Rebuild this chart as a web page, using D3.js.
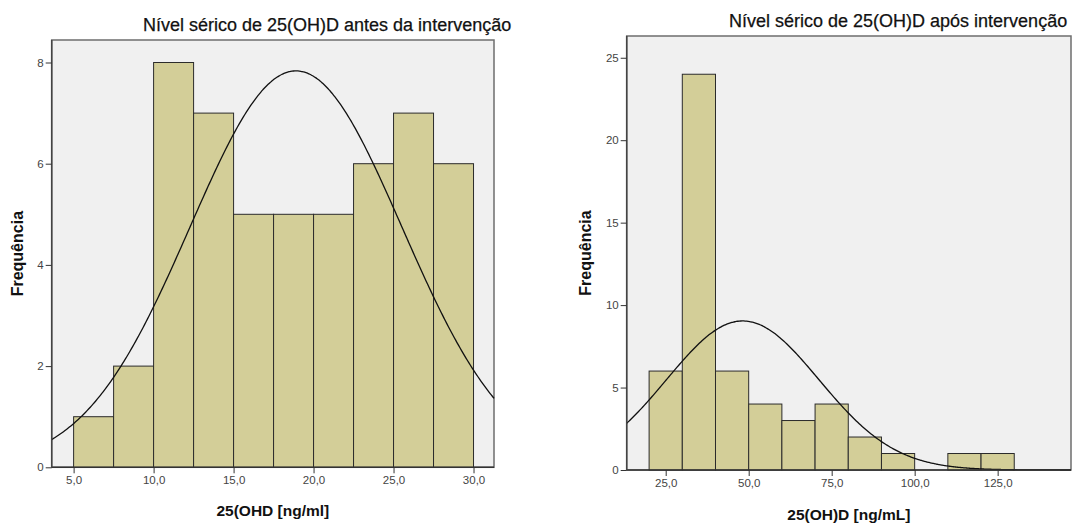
<!DOCTYPE html>
<html><head><meta charset="utf-8">
<script src="https://cdn.jsdelivr.net/npm/d3@7"></script>
<style>body{margin:0;background:#fff}svg{display:block}</style>
</head><body>
<svg id="c" width="1075" height="523"></svg>
<script>
// Chart 1: before intervention
const bins1 = [5, 7.5, 10, 12.5, 15, 17.5, 20, 22.5, 25, 27.5, 30];
const counts1 = [1, 2, 8, 7, 5, 5, 5, 6, 7, 6];
const xTicks1 = [5, 10, 15, 20, 25, 30];
const yTicks1 = [0, 2, 4, 6, 8];
const normal1 = {mean: 18.9, sd: 6.62, n: 52, width: 2.5};

// Chart 2: after intervention
const bins2 = [20, 30, 40, 50, 60, 70, 80, 90, 100, 110, 120, 130];
const counts2 = [6, 24, 6, 4, 3, 4, 2, 1, 0, 1, 1];
const xTicks2 = [25, 50, 75, 100, 125];
const yTicks2 = [0, 5, 10, 15, 20, 25];
const normal2 = {mean: 48.2, sd: 22.95, n: 52, width: 10};

const titles = ["Nível sérico de 25(OH)D antes da intervenção", "Nível sérico de 25(OH)D após intervenção"];
const xLabels = ["25(OHD [ng/ml]", "25(OH)D [ng/mL]"];
const yLabel = "Frequência";

const svg = d3.select("#c");
const fmt = v => d3.format(".1f")(v).replace(".", ",");
const FONT = "'Liberation Sans', Arial, sans-serif";

function draw(cfg) {
  const {box, xDom, yDom, bins, counts, xTicks, yTicks, normal, title, titleX, titleY, xLabel, xLabelY, yLabelX} = cfg;
  const x = d3.scaleLinear().domain(xDom).range([box.l, box.r]);
  const y = d3.scaleLinear().domain(yDom).range([box.b, box.b - (yDom[1]-yDom[0]) * box.ppu]);
  const g = svg.append("g");
  g.append("rect").attr("x", box.l).attr("y", box.t).attr("width", box.r - box.l).attr("height", box.b - box.t)
    .attr("fill", "#f0f0f0").attr("stroke", "#6e6e6e").attr("stroke-width", 1.5);
  const data = counts.map((c, i) => ({x0: bins[i], x1: bins[i+1], c}));
  g.selectAll("rect.bar").data(data.filter(d => d.c > 0)).join("rect").attr("class", "bar")
    .attr("x", d => x(d.x0)).attr("width", d => x(d.x1) - x(d.x0))
    .attr("y", d => y(d.c)).attr("height", d => y(0) - y(d.c))
    .attr("fill", "#d3ce98").attr("stroke", "#2b2b2b").attr("stroke-width", 1);
  // fitted normal curve
  const pts = d3.range(0, 301).map(i => xDom[0] + (xDom[1]-xDom[0]) * i / 300);
  const f = v => normal.n * normal.width / (normal.sd * Math.sqrt(2*Math.PI)) * Math.exp(-((v-normal.mean)**2) / (2*normal.sd**2));
  g.append("path").datum(pts).attr("fill", "none").attr("stroke", "#111").attr("stroke-width", 1.3)
    .attr("d", d3.line().x(v => x(v)).y(v => y(f(v))).curve(d3.curveBasis));
  g.append("line").attr("x1", box.l).attr("x2", box.r).attr("y1", box.b).attr("y2", box.b).attr("stroke", "#333").attr("stroke-width", 1.5);
  g.append("line").attr("x1", box.l).attr("x2", box.l).attr("y1", box.t).attr("y2", box.b).attr("stroke", "#444").attr("stroke-width", 1.5);
  const xa = g.append("g").attr("transform", `translate(0,${box.b})`)
    .call(d3.axisBottom(x).tickValues(xTicks).tickFormat(fmt).tickSize(6).tickPadding(3));
  xa.select(".domain").remove();
  xa.selectAll("line").attr("stroke", "#333");
  xa.selectAll("text").attr("fill", "#444").style("font", `11.5px ${FONT}`);
  const ya = g.append("g").attr("transform", `translate(${box.l},0)`)
    .call(d3.axisLeft(y).tickValues(yTicks).tickFormat(d3.format("d")).tickSize(6).tickPadding(2));
  ya.select(".domain").remove();
  ya.selectAll("line").attr("stroke", "#333");
  ya.selectAll("text").attr("fill", "#444").style("font", `11.5px ${FONT}`);
  g.append("text").attr("x", titleX).attr("y", titleY).text(title)
    .attr("fill", "#111").attr("stroke", "#111").attr("stroke-width", 0.25).style("font", `18px ${FONT}`);
  g.append("text").attr("x", (box.l + box.r)/2).attr("y", xLabelY).attr("text-anchor", "middle").text(xLabel)
    .attr("fill", "#111").style("font", `bold 15.5px ${FONT}`);
  g.append("text").attr("transform", `translate(${yLabelX},${(box.t+box.b)/2}) rotate(-90)`).attr("text-anchor", "middle").text(yLabel)
    .attr("fill", "#111").style("font", `bold 16px ${FONT}`);
}

draw({box: {l: 51.7, r: 494, t: 40, b: 467.3, ppu: 50.6}, xDom: [3.63, 31.28], yDom: [0, 8.45],
  bins: bins1, counts: counts1, xTicks: xTicks1, yTicks: yTicks1, normal: normal1,
  title: titles[0], titleX: 143, titleY: 31, xLabel: xLabels[0], xLabelY: 516, yLabelX: 23});
draw({box: {l: 626.7, r: 1071, t: 36, b: 470, ppu: 16.49}, xDom: [13.25, 147.1], yDom: [0, 26.3],
  bins: bins2, counts: counts2, xTicks: xTicks2, yTicks: yTicks2, normal: normal2,
  title: titles[1], titleX: 729, titleY: 27, xLabel: xLabels[1], xLabelY: 520, yLabelX: 591});
</script>
</body></html>
